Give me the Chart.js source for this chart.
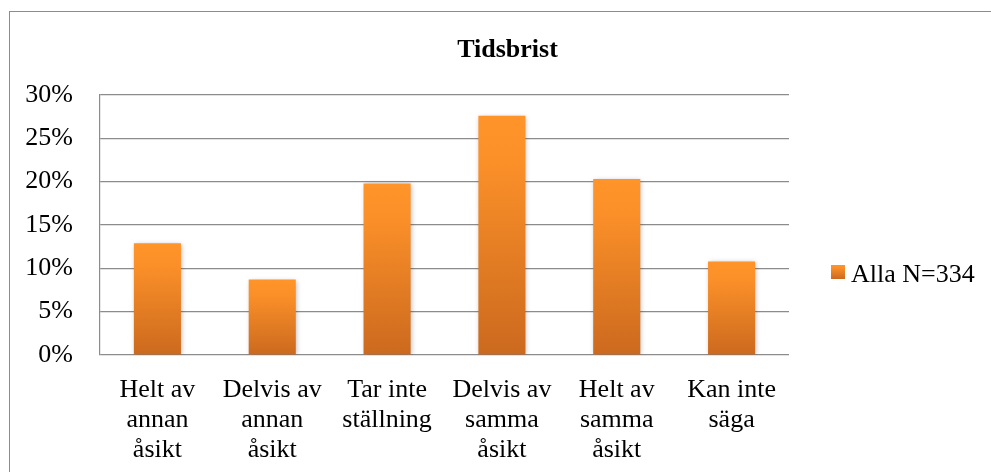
<!DOCTYPE html>
<html>
<head>
<meta charset="utf-8">
<script src="https://cdn.jsdelivr.net/npm/chart.js@4/dist/chart.umd.min.js"></script>
<style>
  html, body { margin: 0; padding: 0; background: #ffffff; overflow: hidden; }
  #wrap { position: absolute; left: 0; top: 0; width: 991px; height: 472px; }
</style>
</head>
<body>
<div id="wrap"><canvas id="c" width="991" height="472"></canvas></div>
<script>
const TITLE = 'Tidsbrist';
const SERIES_LABEL = 'Alla N=334';
const categories = [
  ['Helt av', 'annan', 'åsikt'],
  ['Delvis av', 'annan', 'åsikt'],
  ['Tar inte', 'ställning'],
  ['Delvis av', 'samma', 'åsikt'],
  ['Helt av', 'samma', 'åsikt'],
  ['Kan inte', 'säga']
];
const values = [12.9, 8.7, 19.8, 27.6, 20.3, 10.8];
const yTicks = [0, 5, 10, 15, 20, 25, 30];

const FONT = '"Liberation Serif", "Times New Roman", serif';
const GRID = '#8c8c8c';

function barGradient(ctx, top, bottom) {
  const g = ctx.createLinearGradient(0, top, 0, bottom);
  g.addColorStop(0, '#FF942A');
  g.addColorStop(0.2, '#FB9029');
  g.addColorStop(1, '#CB691E');
  return g;
}

const decor = {
  id: 'decor',
  beforeDraw(chart) {
    const ctx = chart.ctx;
    ctx.save();
    ctx.strokeStyle = '#8c8c8c';
    ctx.lineWidth = 1;
    ctx.strokeRect(9.5, 11.5, 1100, 600);
    ctx.restore();
  },
  beforeDatasetsDraw(chart) {
    const ctx = chart.ctx;
    ctx.save();
    ctx.shadowColor = 'rgba(0,0,0,0.28)';
    ctx.shadowBlur = 5;
    ctx.shadowOffsetX = 1;
    ctx.shadowOffsetY = 1;
  },
  afterDatasetsDraw(chart) {
    chart.ctx.restore();
  },
  afterDraw(chart) {
    const ctx = chart.ctx;
    ctx.save();
    // title
    ctx.fillStyle = '#000000';
    ctx.font = 'bold 26px ' + FONT;
    ctx.textAlign = 'center';
    ctx.textBaseline = 'alphabetic';
    ctx.fillText(TITLE, 507.5, 57);
    // legend
    ctx.fillStyle = barGradient(ctx, 265, 279);
    ctx.fillRect(831, 265, 14, 14);
    ctx.fillStyle = '#000000';
    ctx.font = '26px ' + FONT;
    ctx.textAlign = 'left';
    ctx.fillText(chart.data.datasets[0].label, 851, 282);
    ctx.restore();
  }
};

new Chart(document.getElementById('c'), {
  type: 'bar',
  data: {
    labels: categories,
    datasets: [{
      label: SERIES_LABEL,
      data: values,
      backgroundColor: (c) => {
        const chart = c.chart;
        if (!chart.chartArea || c.type !== 'data' || !chart.scales.y) return '#EE8527';
        const ys = chart.scales.y;
        const top = ys.getPixelForValue(c.raw);
        const bottom = ys.getPixelForValue(0);
        return barGradient(chart.ctx, top, bottom);
      },
      borderWidth: 0,
      barPercentage: 0.41,
      categoryPercentage: 1.0
    }]
  },
  options: {
    responsive: false,
    animation: false,
    devicePixelRatio: 1,
    layout: { padding: { left: 0, right: 202, top: 95, bottom: 0 } },
    plugins: {
      legend: { display: false },
      title: { display: false },
      tooltip: { enabled: false }
    },
    scales: {
      x: {
        grid: { display: false, drawTicks: false },
        border: { display: false },
        ticks: {
          color: '#000000',
          font: { family: FONT, size: 26, lineHeight: 1.16 },
          padding: 20,
          maxRotation: 0,
          minRotation: 0,
          autoSkip: false
        },
        afterFit: (s) => { s.height = 117; }
      },
      y: {
        min: 0,
        max: 30,
        afterBuildTicks: (s) => { s.ticks = yTicks.map(v => ({ value: v })); },
        grid: { color: GRID, lineWidth: 1.2, drawTicks: false },
        border: { display: true, color: GRID, width: 1.2 },
        ticks: {
          color: '#000000',
          font: { family: FONT, size: 26 },
          padding: 27,
          callback: (v) => v + '%'
        },
        afterFit: (s) => { s.width = 100; }
      }
    }
  },
  plugins: [decor]
});
</script>
</body>
</html>
